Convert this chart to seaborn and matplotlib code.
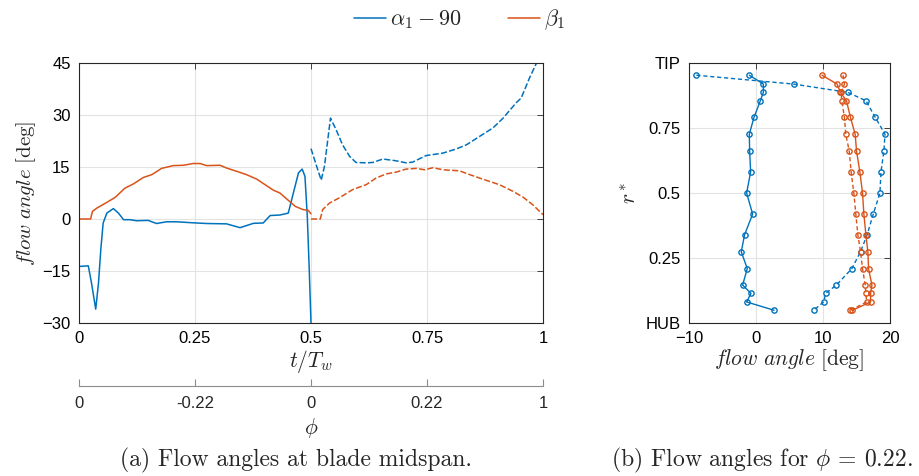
import numpy as np
import pandas as pd
import matplotlib
matplotlib.use("Agg")
import matplotlib.pyplot as plt
import seaborn as sns

# ---- data: (a) midspan flow angles vs t/Tw ----
t_alpha_1 = [0, 0.02, 0.027, 0.036, 0.042, 0.047, 0.052, 0.060, 0.074, 0.085, 0.096,
             0.11, 0.124, 0.149, 0.167, 0.189, 0.21, 0.246, 0.275, 0.318, 0.347,
             0.376, 0.397, 0.412, 0.433, 0.451, 0.462, 0.473, 0.481, 0.487, 0.492,
             0.496, 0.5]
alpha_1 = [-13.7, -13.5, -18.5, -26, -18.5, -8.8, -1.2, 1.7, 3.0, 1.7, -0.2,
           -0.2, -0.5, -0.4, -1.3, -0.8, -0.8, -1.1, -1.3, -1.4, -2.5,
           -1.25, -1.15, 1.0, 1.15, 1.7, 7.5, 13.3, 14.4, 12.3, 0.8,
           -13.7, -30]
t_alpha_2 = [0.5, 0.511, 0.522, 0.529, 0.542, 0.554, 0.568, 0.583, 0.597, 0.619,
             0.633, 0.655, 0.683, 0.705, 0.719, 0.748, 0.784, 0.813, 0.835, 0.863,
             0.892, 0.914, 0.942, 0.953, 0.971, 0.986]
alpha_2 = [20.3, 15.7, 11.2, 15.2, 29.1, 25.8, 21.4, 18.1, 16.3, 16.2,
           16.3, 17.3, 16.8, 16.2, 16.4, 18.3, 19.0, 20.2, 21.4, 23.8,
           26.25, 29.1, 33.5, 34.9, 40.7, 45]
t_beta_1 = [0, 0.025, 0.029, 0.038, 0.06, 0.078, 0.099, 0.117, 0.139, 0.157, 0.178,
            0.203, 0.225, 0.246, 0.261, 0.275, 0.304, 0.318, 0.34, 0.361, 0.383,
            0.401, 0.419, 0.433, 0.451, 0.466, 0.483, 0.494, 0.5]
beta_1 = [0, 0, 2.2, 3.1, 4.8, 6.25, 8.9, 10.1, 12.0, 12.8, 14.6,
          15.4, 15.5, 16.0, 16.0, 15.4, 15.5, 14.7, 13.75, 12.8, 11.5,
          9.9, 8.3, 7.5, 5.4, 3.65, 2.7, 2.5, 1.5]
t_beta_2 = [0.5, 0.52, 0.525, 0.54, 0.561, 0.59, 0.619, 0.64, 0.662, 0.683, 0.705,
            0.727, 0.745, 0.763, 0.784, 0.82, 0.842, 0.87, 0.906, 0.935, 0.957,
            0.978, 1.0]
beta_2 = [0, 0, 2.7, 4.6, 6.1, 8.5, 9.9, 11.8, 13.0, 13.5, 14.4,
          14.6, 14.2, 14.8, 14.2, 13.9, 12.8, 11.5, 9.9, 8.0, 6.3,
          4.1, 1.25]

# ---- data: (b) radial profiles at phi = 0.22 ----
r_star = [0.953, 0.919, 0.887, 0.855, 0.791, 0.726, 0.663, 0.581, 0.5,
          0.419, 0.340, 0.274, 0.209, 0.146, 0.114, 0.081, 0.049]
alpha_r_solid = [-1.0, 1.1, 1.1, 0.65, -0.3, -1.0, -0.95, -0.8, -1.4,
                 -0.5, -1.7, -2.2, -1.3, -2.0, -0.75, -1.4, 2.7]
alpha_r_dash = [-8.9, 5.6, 13.7, 16.4, 17.8, 19.25, 19.1, 18.65, 18.5,
                17.5, 16.6, 15.6, 14.3, 12.0, 10.4, 10.1, 8.6]
beta_r_solid = [9.85, 12.1, 12.6, 13.5, 14.1, 14.8, 15.0, 15.5, 15.9,
                16.1, 16.4, 16.7, 16.8, 17.3, 17.1, 17.1, 14.4]
beta_r_dash = [13.0, 13.2, 12.7, 12.8, 13.2, 13.4, 13.9, 14.2, 14.6,
               14.9, 15.2, 15.6, 15.9, 16.3, 16.4, 16.5, 14.1]

t_ticks = [0, 0.25, 0.5, 0.75, 1]
phi_labels = ["0", "-0.22", "0", "0.22", "1"]

BLUE = "#0072BD"
ORANGE = "#D95319"

sns.set_style("whitegrid", {"grid.color": "#e3e3e3", "axes.edgecolor": "#262626"})
plt.rcParams["font.family"] = ["Liberation Sans", "DejaVu Sans"]
plt.rcParams["mathtext.fontset"] = "cm"

fig = plt.figure(figsize=(9.19, 4.76), dpi=100)
ax1 = fig.add_axes([79 / 919, 1 - 323 / 476, 464 / 919, 260 / 476])
ax2 = fig.add_axes([689 / 919, 1 - 323 / 476, 201 / 919, 260 / 476])

# (a)
sns.lineplot(x=t_alpha_1, y=alpha_1, ax=ax1, color=BLUE, lw=1.1, sort=False,
             estimator=None, label=r"$\alpha_1 - 90$")
sns.lineplot(x=t_beta_1, y=beta_1, ax=ax1, color=ORANGE, lw=1.1, sort=False,
             estimator=None, label=r"$\beta_1$")
sns.lineplot(x=t_alpha_2, y=alpha_2, ax=ax1, color=BLUE, lw=1.1, sort=False,
             estimator=None, linestyle=(0, (4, 1.5)))
sns.lineplot(x=t_beta_2, y=beta_2, ax=ax1, color=ORANGE, lw=1.1, sort=False,
             estimator=None, linestyle=(0, (4, 1.5)))
handles, labels = ax1.get_legend_handles_labels()
ax1.get_legend().remove()

ax1.set_xlim(0, 1)
ax1.set_ylim(-30, 45)
ax1.set_xticks(t_ticks, labels=["0", "0.25", "0.5", "0.75", "1"])
ax1.set_yticks([-30, -15, 0, 15, 30, 45])
ax1.set_xlabel(r"$t/T_w$", fontsize=15.5, labelpad=1)
ax1.set_ylabel(r"$flow\ angle\ \mathrm{[deg]}$", fontsize=15, labelpad=3)

sec = ax1.secondary_xaxis(-0.242)
sec.set_xticks(t_ticks, labels=phi_labels)
sec.spines["bottom"].set_color("#8c8c8c")
sec.tick_params(axis="x", direction="in", length=5, color="#8c8c8c",
                labelsize=12, pad=7)
sec.set_xlabel(r"$\phi$", fontsize=15.5, labelpad=4)

# (b)
prof = pd.DataFrame({
    "r": r_star * 4,
    "angle": alpha_r_solid + alpha_r_dash + beta_r_solid + beta_r_dash,
    "series": ["as"] * 17 + ["ad"] * 17 + ["bs"] * 17 + ["bd"] * 17,
})
styles = {"as": (BLUE, "-"), "ad": (BLUE, (0, (3, 2))),
          "bs": (ORANGE, "-"), "bd": (ORANGE, (0, (3, 2)))}
for key, (col, ls) in styles.items():
    sub = prof[prof["series"] == key]
    sns.lineplot(data=sub, x="angle", y="r", ax=ax2, color=col, linestyle=ls,
                 lw=1.0, sort=False, estimator=None, marker="o",
                 markersize=3.8, markerfacecolor="none", markeredgecolor=col,
                 markeredgewidth=1.0)

ax2.set_xlim(-10, 20)
ax2.set_ylim(0, 1)
ax2.set_xticks([-10, 0, 10, 20])
ax2.set_yticks([0, 0.25, 0.5, 0.75, 1], labels=["HUB", "0.25", "0.5", "0.75", "TIP"])
ax2.set_xlabel(r"$flow\ angle\ \mathrm{[deg]}$", fontsize=15.5, labelpad=1)
ax2.set_ylabel(r"$r^*$", fontsize=15.5, labelpad=3)

for ax in (ax1, ax2):
    for s in ax.spines.values():
        s.set_linewidth(0.8)
        s.set_color("#262626")
    ax.tick_params(direction="in", length=4, width=0.6, labelsize=12,
                   top=True, right=True, pad=6, colors="#262626")
    ax.tick_params(labelcolor="black")
    ax.grid(True, color="#e3e3e3", lw=0.8)

fig.legend(handles, labels, loc="center", bbox_to_anchor=(0.5, 1 - 20 / 476),
           ncol=2, frameon=False, fontsize=16, handlelength=1.45,
           columnspacing=2.1, handletextpad=0.15)

fig.text(296 / 919, 1 - 460 / 476, "(a) Flow angles at blade midspan.",
         ha="center", va="center", fontsize=17, family="cmr10")
fig.text(762 / 919, 1 - 460 / 476, r"(b) Flow angles for $\phi$ = 0.22.",
         ha="center", va="center", fontsize=17, family="cmr10")

fig.savefig("out.png", dpi=100)
